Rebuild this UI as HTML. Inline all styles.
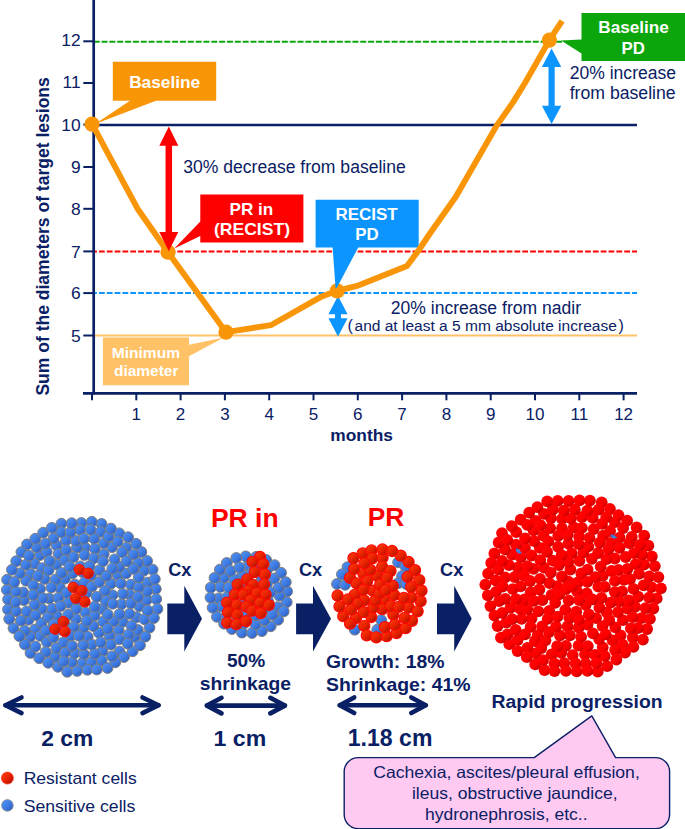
<!DOCTYPE html>
<html><head><meta charset="utf-8"><title>RECIST</title>
<style>
html,body{margin:0;padding:0;background:#fff;}
body{width:685px;height:829px;overflow:hidden;}
svg{display:block;}
text{font-family:"Liberation Sans",sans-serif;}
.b{font-weight:bold;}
.n{fill:#0a2064;}
.w{fill:#fff;}
</style></head><body>
<svg width="685" height="829" viewBox="0 0 685 829">
<defs>
<linearGradient id="gb" x1="0.15" y1="0.15" x2="0.85" y2="0.85">
<stop offset="0" stop-color="#4d8ef3"/><stop offset="0.5" stop-color="#3f7de3"/><stop offset="1" stop-color="#2f62c8"/>
</linearGradient>
<linearGradient id="gr" x1="0.15" y1="0.15" x2="0.85" y2="0.85">
<stop offset="0" stop-color="#f7380f"/><stop offset="0.5" stop-color="#ea2200"/><stop offset="1" stop-color="#b61400"/>
</linearGradient>
<linearGradient id="gr2" x1="0.15" y1="0.15" x2="0.85" y2="0.85">
<stop offset="0" stop-color="#ff0505"/><stop offset="0.6" stop-color="#fd0000"/><stop offset="1" stop-color="#c80000"/>
</linearGradient>
</defs>
<rect width="685" height="829" fill="#fff"/>

<g id="chart">
<line x1="94" y1="41.699999999999996" x2="562" y2="41.699999999999996" stroke="#0ca60c" stroke-width="2.1" stroke-dasharray="6 1.84" stroke-dashoffset="0.3"/>
<line x1="94" y1="124.89999999999999" x2="637" y2="124.89999999999999" stroke="#0a2064" stroke-width="2.5"/>
<line x1="94" y1="251.4" x2="637" y2="251.4" stroke="#ff0000" stroke-width="2" stroke-dasharray="5.8 2.04" stroke-dashoffset="2.9"/>
<line x1="94" y1="293.1" x2="637" y2="293.1" stroke="#0c95ff" stroke-width="2" stroke-dasharray="5.8 2.04" stroke-dashoffset="2.9"/>
<line x1="94" y1="335.5" x2="637" y2="335.5" stroke="#ffc266" stroke-width="2.2"/>
<line x1="93.7" y1="0" x2="93.7" y2="394.6" stroke="#0a2064" stroke-width="2.7"/>
<line x1="83" y1="393.4" x2="637" y2="393.4" stroke="#0a2064" stroke-width="2.6"/>
<line x1="83.3" y1="335.5" x2="93" y2="335.5" stroke="#0a2064" stroke-width="2"/>
<text x="80.6" y="341.7" font-size="17.4" text-anchor="end" class="n">5</text>
<line x1="83.3" y1="293.1" x2="93" y2="293.1" stroke="#0a2064" stroke-width="2"/>
<text x="80.6" y="299.3" font-size="17.4" text-anchor="end" class="n">6</text>
<line x1="83.3" y1="251.4" x2="93" y2="251.4" stroke="#0a2064" stroke-width="2"/>
<text x="80.6" y="257.6" font-size="17.4" text-anchor="end" class="n">7</text>
<line x1="83.3" y1="208.8" x2="93" y2="208.8" stroke="#0a2064" stroke-width="2"/>
<text x="80.6" y="215.0" font-size="17.4" text-anchor="end" class="n">8</text>
<line x1="83.3" y1="167.0" x2="93" y2="167.0" stroke="#0a2064" stroke-width="2"/>
<text x="80.6" y="173.2" font-size="17.4" text-anchor="end" class="n">9</text>
<line x1="83.3" y1="124.6" x2="93" y2="124.6" stroke="#0a2064" stroke-width="2"/>
<text x="80.6" y="130.8" font-size="17.4" text-anchor="end" class="n">10</text>
<line x1="83.3" y1="83.0" x2="93" y2="83.0" stroke="#0a2064" stroke-width="2"/>
<text x="80.6" y="88.3" font-size="17.4" text-anchor="end" class="n">11</text>
<line x1="83.3" y1="41.3" x2="93" y2="41.3" stroke="#0a2064" stroke-width="2"/>
<text x="80.6" y="45.9" font-size="17.4" text-anchor="end" class="n">12</text>
<line x1="92.0" y1="393" x2="92.0" y2="400.3" stroke="#0a2064" stroke-width="2"/>
<line x1="136.3" y1="393" x2="136.3" y2="400.3" stroke="#0a2064" stroke-width="2"/>
<text x="136.3" y="420.3" font-size="17" text-anchor="middle" class="n">1</text>
<line x1="180.6" y1="393" x2="180.6" y2="400.3" stroke="#0a2064" stroke-width="2"/>
<text x="180.6" y="420.3" font-size="17" text-anchor="middle" class="n">2</text>
<line x1="224.9" y1="393" x2="224.9" y2="400.3" stroke="#0a2064" stroke-width="2"/>
<text x="224.9" y="420.3" font-size="17" text-anchor="middle" class="n">3</text>
<line x1="269.2" y1="393" x2="269.2" y2="400.3" stroke="#0a2064" stroke-width="2"/>
<text x="269.2" y="420.3" font-size="17" text-anchor="middle" class="n">4</text>
<line x1="313.5" y1="393" x2="313.5" y2="400.3" stroke="#0a2064" stroke-width="2"/>
<text x="313.5" y="420.3" font-size="17" text-anchor="middle" class="n">5</text>
<line x1="357.8" y1="393" x2="357.8" y2="400.3" stroke="#0a2064" stroke-width="2"/>
<text x="357.8" y="420.3" font-size="17" text-anchor="middle" class="n">6</text>
<line x1="402.1" y1="393" x2="402.1" y2="400.3" stroke="#0a2064" stroke-width="2"/>
<text x="402.1" y="420.3" font-size="17" text-anchor="middle" class="n">7</text>
<line x1="446.4" y1="393" x2="446.4" y2="400.3" stroke="#0a2064" stroke-width="2"/>
<text x="446.4" y="420.3" font-size="17" text-anchor="middle" class="n">8</text>
<line x1="490.7" y1="393" x2="490.7" y2="400.3" stroke="#0a2064" stroke-width="2"/>
<text x="490.7" y="420.3" font-size="17" text-anchor="middle" class="n">9</text>
<line x1="535.0" y1="393" x2="535.0" y2="400.3" stroke="#0a2064" stroke-width="2"/>
<text x="535.0" y="420.3" font-size="17" text-anchor="middle" class="n">10</text>
<line x1="579.3" y1="393" x2="579.3" y2="400.3" stroke="#0a2064" stroke-width="2"/>
<text x="579.3" y="420.3" font-size="17" text-anchor="middle" class="n">11</text>
<line x1="623.6" y1="393" x2="623.6" y2="400.3" stroke="#0a2064" stroke-width="2"/>
<text x="623.6" y="420.3" font-size="17" text-anchor="middle" class="n">12</text>
<text x="361.6" y="441" font-size="17" text-anchor="middle" class="n b" textLength="62.6" lengthAdjust="spacingAndGlyphs">months</text>
<text transform="translate(49,395.6) rotate(-90)" font-size="17.5" class="n b" textLength="318.4" lengthAdjust="spacingAndGlyphs">Sum of the diameters of target lesions</text>
<path d="M102.9 337.5 H189 V344.8 L224 337.6 L189 356.3 V385.2 H102.9 Z" fill="#ffc266"/>
<text x="145.9" y="357.8" font-size="15.5" text-anchor="middle" class="w b" textLength="68.3" lengthAdjust="spacingAndGlyphs">Minimum</text>
<text x="146.2" y="376" font-size="15.5" text-anchor="middle" class="w b" textLength="64.5" lengthAdjust="spacingAndGlyphs">diameter</text>
<path d="M338.0 296.0 L347.6 314.3 H341.0 V318.3 H347.6 L338.0 336.6 L328.4 318.3 H335.0 V314.3 H328.4 Z" fill="#0c95ff"/>
<path d="M551.6 48.6 L561.3000000000001 66.9 H554.7 V105.7 H561.3000000000001 L551.6 124.0 L541.9 105.7 H548.5 V66.9 H541.9 Z" fill="#0c95ff"/>
<circle cx="92" cy="124.2" r="7.6" fill="#f99608"/>
<circle cx="168.0" cy="252.2" r="7.6" fill="#f99608"/>
<circle cx="226" cy="332.2" r="7.6" fill="#f99608"/>
<circle cx="337.2" cy="290.9" r="7.6" fill="#f99608"/>
<circle cx="549.4" cy="40.1" r="7.6" fill="#f99608"/>
<path d="M315.6 199.8 H418.7 V247.4 H358.2 L335.7 290 L332.6 247.4 H315.6 Z" fill="#0c95ff"/>
<text x="366.6" y="219.6" font-size="17" text-anchor="middle" class="w b" textLength="62.2" lengthAdjust="spacingAndGlyphs">RECIST</text>
<text x="367" y="240" font-size="17" text-anchor="middle" class="w b" textLength="23.4" lengthAdjust="spacingAndGlyphs">PD</text>
<path d="M92.2 124.2 L137.9 209.3 L168.0 252.2 L226 332.2 L270.8 325.2 L320.5 297.1 L337.3 290.8 L358.8 285.3 L407 266 L418.9 250 L429.6 234 L455.8 196.8 L496.5 125.9 L513 102.4 L525.1 82.8 L549.4 40.1 L562.1 20.8" fill="none" stroke="#f99608" stroke-width="5.9" stroke-linejoin="round"/>
<path d="M168.8 126.6 L178.3 145.79999999999998 H172.05 V232.0 H178.3 L168.8 251.2 L159.3 232.0 H165.55 V145.79999999999998 H159.3 Z" fill="#ff0000"/>
<path d="M112.8 61.7 H216.2 V100.8 H156 L95 124 L130 100.8 H112.8 Z" fill="#f99608"/>
<text x="164.7" y="87.8" font-size="17" text-anchor="middle" class="w b" textLength="71.1" lengthAdjust="spacingAndGlyphs">Baseline</text>
<path d="M200.3 194.5 H303.4 V242.6 H200.3 V236 L174.3 248.6 L200.3 221.5 Z" fill="#ff0000"/>
<text x="251.4" y="214.8" font-size="17" text-anchor="middle" class="w b" textLength="43.8" lengthAdjust="spacingAndGlyphs">PR in</text>
<text x="252" y="235.2" font-size="17" text-anchor="middle" class="w b" textLength="76" lengthAdjust="spacingAndGlyphs">(RECIST)</text>
<path d="M581.5 12.9 H686 V60.9 H581.5 V53.5 L561.1 40.4 L581.5 39.6 Z" fill="#0ca60c"/>
<text x="633.6" y="33.2" font-size="17" text-anchor="middle" class="w b" textLength="70.6" lengthAdjust="spacingAndGlyphs">Baseline</text>
<text x="633.3" y="53.9" font-size="17" text-anchor="middle" class="w b" textLength="23.4" lengthAdjust="spacingAndGlyphs">PD</text>
<text x="183.2" y="173.3" font-size="17.5" class="n" textLength="222.6" lengthAdjust="spacingAndGlyphs">30% decrease from baseline</text>
<text x="569.7" y="78.7" font-size="17.5" class="n" textLength="106.4" lengthAdjust="spacingAndGlyphs">20% increase</text>
<text x="569.7" y="99.1" font-size="17.5" class="n" textLength="106" lengthAdjust="spacingAndGlyphs">from baseline</text>
<text x="390.8" y="313.8" font-size="17.5" class="n" textLength="190.2" lengthAdjust="spacingAndGlyphs">20% increase from nadir</text>
<text x="354.5" y="330.9" font-size="15.5" class="n" textLength="262.3" lengthAdjust="spacingAndGlyphs">and at least a 5 mm absolute increase</text>
<text x="347.6" y="330.6" font-size="16" class="n">(</text>
<text x="618.6" y="330.6" font-size="16" class="n">)</text>
</g>
<g id="cells">
<circle cx="67.2" cy="671.8" r="5.4" fill="url(#gb)" stroke="#7c7c7c" stroke-width="1.0"/>
<circle cx="141.4" cy="552.0" r="5.4" fill="url(#gb)" stroke="#7c7c7c" stroke-width="1.0"/>
<circle cx="28.5" cy="619.8" r="5.4" fill="url(#gb)" stroke="#7c7c7c" stroke-width="1.0"/>
<circle cx="72.5" cy="573.4" r="5.4" fill="url(#gb)" stroke="#7c7c7c" stroke-width="1.0"/>
<circle cx="101.6" cy="523.9" r="5.4" fill="url(#gb)" stroke="#7c7c7c" stroke-width="1.0"/>
<circle cx="117.7" cy="575.0" r="5.4" fill="url(#gb)" stroke="#7c7c7c" stroke-width="1.0"/>
<circle cx="81.3" cy="523.0" r="5.4" fill="url(#gb)" stroke="#7c7c7c" stroke-width="1.0"/>
<circle cx="152.6" cy="569.6" r="5.4" fill="url(#gb)" stroke="#7c7c7c" stroke-width="1.0"/>
<circle cx="66.0" cy="540.4" r="5.4" fill="url(#gb)" stroke="#7c7c7c" stroke-width="1.0"/>
<circle cx="134.7" cy="636.9" r="5.4" fill="url(#gb)" stroke="#7c7c7c" stroke-width="1.0"/>
<circle cx="35.0" cy="629.5" r="5.4" fill="url(#gb)" stroke="#7c7c7c" stroke-width="1.0"/>
<circle cx="56.5" cy="545.3" r="5.4" fill="url(#gb)" stroke="#7c7c7c" stroke-width="1.0"/>
<circle cx="39.9" cy="555.1" r="5.4" fill="url(#gb)" stroke="#7c7c7c" stroke-width="1.0"/>
<circle cx="102.5" cy="651.1" r="5.4" fill="url(#gb)" stroke="#7c7c7c" stroke-width="1.0"/>
<circle cx="16.2" cy="561.2" r="5.4" fill="url(#gb)" stroke="#7c7c7c" stroke-width="1.0"/>
<circle cx="80.1" cy="530.0" r="5.4" fill="url(#gb)" stroke="#7c7c7c" stroke-width="1.0"/>
<circle cx="68.4" cy="602.8" r="5.4" fill="url(#gb)" stroke="#7c7c7c" stroke-width="1.0"/>
<circle cx="34.5" cy="563.7" r="5.4" fill="url(#gb)" stroke="#7c7c7c" stroke-width="1.0"/>
<circle cx="82.5" cy="662.8" r="5.4" fill="url(#gb)" stroke="#7c7c7c" stroke-width="1.0"/>
<circle cx="85.1" cy="547.6" r="5.4" fill="url(#gb)" stroke="#7c7c7c" stroke-width="1.0"/>
<circle cx="36.5" cy="547.2" r="5.4" fill="url(#gb)" stroke="#7c7c7c" stroke-width="1.0"/>
<circle cx="79.6" cy="590.0" r="5.4" fill="url(#gb)" stroke="#7c7c7c" stroke-width="1.0"/>
<circle cx="13.5" cy="628.2" r="5.4" fill="url(#gb)" stroke="#7c7c7c" stroke-width="1.0"/>
<circle cx="30.5" cy="652.9" r="5.4" fill="url(#gb)" stroke="#7c7c7c" stroke-width="1.0"/>
<circle cx="84.4" cy="555.0" r="5.4" fill="url(#gb)" stroke="#7c7c7c" stroke-width="1.0"/>
<circle cx="100.5" cy="531.9" r="5.4" fill="url(#gb)" stroke="#7c7c7c" stroke-width="1.0"/>
<circle cx="126.2" cy="547.8" r="5.4" fill="url(#gb)" stroke="#7c7c7c" stroke-width="1.0"/>
<circle cx="40.4" cy="635.9" r="5.4" fill="url(#gb)" stroke="#7c7c7c" stroke-width="1.0"/>
<circle cx="101.7" cy="660.5" r="5.4" fill="url(#gb)" stroke="#7c7c7c" stroke-width="1.0"/>
<circle cx="42.1" cy="568.1" r="5.4" fill="url(#gb)" stroke="#7c7c7c" stroke-width="1.0"/>
<circle cx="119.4" cy="651.6" r="5.4" fill="url(#gb)" stroke="#7c7c7c" stroke-width="1.0"/>
<circle cx="54.7" cy="656.6" r="5.4" fill="url(#gb)" stroke="#7c7c7c" stroke-width="1.0"/>
<circle cx="86.5" cy="593.0" r="5.4" fill="url(#gb)" stroke="#7c7c7c" stroke-width="1.0"/>
<circle cx="27.0" cy="544.4" r="5.4" fill="url(#gb)" stroke="#7c7c7c" stroke-width="1.0"/>
<circle cx="71.9" cy="662.0" r="5.4" fill="url(#gb)" stroke="#7c7c7c" stroke-width="1.0"/>
<circle cx="46.9" cy="642.1" r="5.4" fill="url(#gb)" stroke="#7c7c7c" stroke-width="1.0"/>
<circle cx="139.2" cy="606.2" r="5.4" fill="url(#gb)" stroke="#7c7c7c" stroke-width="1.0"/>
<circle cx="118.7" cy="630.1" r="5.4" fill="url(#gb)" stroke="#7c7c7c" stroke-width="1.0"/>
<circle cx="124.0" cy="657.0" r="5.4" fill="url(#gb)" stroke="#7c7c7c" stroke-width="1.0"/>
<circle cx="59.9" cy="587.6" r="5.4" fill="url(#gb)" stroke="#7c7c7c" stroke-width="1.0"/>
<circle cx="8.0" cy="609.4" r="5.4" fill="url(#gb)" stroke="#7c7c7c" stroke-width="1.0"/>
<circle cx="74.8" cy="653.1" r="5.4" fill="url(#gb)" stroke="#7c7c7c" stroke-width="1.0"/>
<circle cx="75.9" cy="618.9" r="5.4" fill="url(#gb)" stroke="#7c7c7c" stroke-width="1.0"/>
<circle cx="58.6" cy="553.8" r="5.4" fill="url(#gb)" stroke="#7c7c7c" stroke-width="1.0"/>
<circle cx="122.2" cy="552.2" r="5.4" fill="url(#gb)" stroke="#7c7c7c" stroke-width="1.0"/>
<circle cx="30.6" cy="574.1" r="5.4" fill="url(#gb)" stroke="#7c7c7c" stroke-width="1.0"/>
<circle cx="110.9" cy="583.7" r="5.4" fill="url(#gb)" stroke="#7c7c7c" stroke-width="1.0"/>
<circle cx="23.9" cy="600.1" r="5.4" fill="url(#gb)" stroke="#7c7c7c" stroke-width="1.0"/>
<circle cx="126.0" cy="573.5" r="5.4" fill="url(#gb)" stroke="#7c7c7c" stroke-width="1.0"/>
<circle cx="46.7" cy="551.8" r="5.4" fill="url(#gb)" stroke="#7c7c7c" stroke-width="1.0"/>
<circle cx="122.8" cy="621.6" r="5.4" fill="url(#gb)" stroke="#7c7c7c" stroke-width="1.0"/>
<circle cx="44.5" cy="578.9" r="5.4" fill="url(#gb)" stroke="#7c7c7c" stroke-width="1.0"/>
<circle cx="91.1" cy="575.3" r="5.4" fill="url(#gb)" stroke="#7c7c7c" stroke-width="1.0"/>
<circle cx="112.4" cy="595.2" r="5.4" fill="url(#gb)" stroke="#7c7c7c" stroke-width="1.0"/>
<circle cx="109.5" cy="635.6" r="5.4" fill="url(#gb)" stroke="#7c7c7c" stroke-width="1.0"/>
<circle cx="82.7" cy="572.1" r="5.4" fill="url(#gb)" stroke="#7c7c7c" stroke-width="1.0"/>
<circle cx="102.6" cy="608.9" r="5.4" fill="url(#gb)" stroke="#7c7c7c" stroke-width="1.0"/>
<circle cx="103.2" cy="621.6" r="5.4" fill="url(#gb)" stroke="#7c7c7c" stroke-width="1.0"/>
<circle cx="146.8" cy="599.9" r="5.4" fill="url(#gb)" stroke="#7c7c7c" stroke-width="1.0"/>
<circle cx="119.2" cy="566.8" r="5.4" fill="url(#gb)" stroke="#7c7c7c" stroke-width="1.0"/>
<circle cx="136.5" cy="617.2" r="5.4" fill="url(#gb)" stroke="#7c7c7c" stroke-width="1.0"/>
<circle cx="66.1" cy="550.1" r="5.4" fill="url(#gb)" stroke="#7c7c7c" stroke-width="1.0"/>
<circle cx="53.5" cy="538.2" r="5.4" fill="url(#gb)" stroke="#7c7c7c" stroke-width="1.0"/>
<circle cx="143.7" cy="570.7" r="5.4" fill="url(#gb)" stroke="#7c7c7c" stroke-width="1.0"/>
<circle cx="85.3" cy="612.3" r="5.4" fill="url(#gb)" stroke="#7c7c7c" stroke-width="1.0"/>
<circle cx="45.8" cy="652.0" r="5.4" fill="url(#gb)" stroke="#7c7c7c" stroke-width="1.0"/>
<circle cx="66.2" cy="593.0" r="5.4" fill="url(#gb)" stroke="#7c7c7c" stroke-width="1.0"/>
<circle cx="41.5" cy="622.9" r="5.4" fill="url(#gb)" stroke="#7c7c7c" stroke-width="1.0"/>
<circle cx="83.3" cy="628.1" r="5.4" fill="url(#gb)" stroke="#7c7c7c" stroke-width="1.0"/>
<circle cx="30.2" cy="636.8" r="5.4" fill="url(#gb)" stroke="#7c7c7c" stroke-width="1.0"/>
<circle cx="7.1" cy="579.7" r="5.4" fill="url(#gb)" stroke="#7c7c7c" stroke-width="1.0"/>
<circle cx="136.1" cy="543.8" r="5.4" fill="url(#gb)" stroke="#7c7c7c" stroke-width="1.0"/>
<circle cx="121.7" cy="604.1" r="5.4" fill="url(#gb)" stroke="#7c7c7c" stroke-width="1.0"/>
<circle cx="147.6" cy="582.6" r="5.4" fill="url(#gb)" stroke="#7c7c7c" stroke-width="1.0"/>
<circle cx="56.3" cy="564.3" r="5.4" fill="url(#gb)" stroke="#7c7c7c" stroke-width="1.0"/>
<circle cx="94.5" cy="615.4" r="5.4" fill="url(#gb)" stroke="#7c7c7c" stroke-width="1.0"/>
<circle cx="99.5" cy="570.1" r="5.4" fill="url(#gb)" stroke="#7c7c7c" stroke-width="1.0"/>
<circle cx="53.3" cy="637.3" r="5.4" fill="url(#gb)" stroke="#7c7c7c" stroke-width="1.0"/>
<circle cx="119.2" cy="533.3" r="5.4" fill="url(#gb)" stroke="#7c7c7c" stroke-width="1.0"/>
<circle cx="56.5" cy="615.6" r="5.4" fill="url(#gb)" stroke="#7c7c7c" stroke-width="1.0"/>
<circle cx="64.8" cy="560.1" r="5.4" fill="url(#gb)" stroke="#7c7c7c" stroke-width="1.0"/>
<circle cx="98.9" cy="632.7" r="5.4" fill="url(#gb)" stroke="#7c7c7c" stroke-width="1.0"/>
<circle cx="41.8" cy="608.8" r="5.4" fill="url(#gb)" stroke="#7c7c7c" stroke-width="1.0"/>
<circle cx="155.8" cy="589.0" r="5.4" fill="url(#gb)" stroke="#7c7c7c" stroke-width="1.0"/>
<circle cx="48.7" cy="570.0" r="5.4" fill="url(#gb)" stroke="#7c7c7c" stroke-width="1.0"/>
<circle cx="91.3" cy="662.2" r="5.4" fill="url(#gb)" stroke="#7c7c7c" stroke-width="1.0"/>
<circle cx="77.0" cy="547.4" r="5.4" fill="url(#gb)" stroke="#7c7c7c" stroke-width="1.0"/>
<circle cx="73.7" cy="627.1" r="5.4" fill="url(#gb)" stroke="#7c7c7c" stroke-width="1.0"/>
<circle cx="26.5" cy="611.5" r="5.4" fill="url(#gb)" stroke="#7c7c7c" stroke-width="1.0"/>
<circle cx="21.4" cy="552.1" r="5.4" fill="url(#gb)" stroke="#7c7c7c" stroke-width="1.0"/>
<circle cx="84.1" cy="601.5" r="5.4" fill="url(#gb)" stroke="#7c7c7c" stroke-width="1.0"/>
<circle cx="37.6" cy="576.0" r="5.4" fill="url(#gb)" stroke="#7c7c7c" stroke-width="1.0"/>
<circle cx="149.5" cy="627.6" r="5.4" fill="url(#gb)" stroke="#7c7c7c" stroke-width="1.0"/>
<circle cx="25.7" cy="564.8" r="5.4" fill="url(#gb)" stroke="#7c7c7c" stroke-width="1.0"/>
<circle cx="57.9" cy="666.8" r="5.4" fill="url(#gb)" stroke="#7c7c7c" stroke-width="1.0"/>
<circle cx="6.9" cy="589.9" r="5.4" fill="url(#gb)" stroke="#7c7c7c" stroke-width="1.0"/>
<circle cx="137.8" cy="630.0" r="5.4" fill="url(#gb)" stroke="#7c7c7c" stroke-width="1.0"/>
<circle cx="16.1" cy="611.2" r="5.4" fill="url(#gb)" stroke="#7c7c7c" stroke-width="1.0"/>
<circle cx="26.1" cy="580.7" r="5.4" fill="url(#gb)" stroke="#7c7c7c" stroke-width="1.0"/>
<circle cx="8.1" cy="599.4" r="5.4" fill="url(#gb)" stroke="#7c7c7c" stroke-width="1.0"/>
<circle cx="24.7" cy="630.8" r="5.4" fill="url(#gb)" stroke="#7c7c7c" stroke-width="1.0"/>
<circle cx="156.2" cy="599.1" r="5.4" fill="url(#gb)" stroke="#7c7c7c" stroke-width="1.0"/>
<circle cx="64.3" cy="622.2" r="5.4" fill="url(#gb)" stroke="#7c7c7c" stroke-width="1.0"/>
<circle cx="110.8" cy="644.5" r="5.4" fill="url(#gb)" stroke="#7c7c7c" stroke-width="1.0"/>
<circle cx="39.2" cy="658.2" r="5.4" fill="url(#gb)" stroke="#7c7c7c" stroke-width="1.0"/>
<circle cx="131.5" cy="625.8" r="5.4" fill="url(#gb)" stroke="#7c7c7c" stroke-width="1.0"/>
<circle cx="87.7" cy="636.8" r="5.4" fill="url(#gb)" stroke="#7c7c7c" stroke-width="1.0"/>
<circle cx="84.4" cy="582.5" r="5.4" fill="url(#gb)" stroke="#7c7c7c" stroke-width="1.0"/>
<circle cx="49.2" cy="598.5" r="5.4" fill="url(#gb)" stroke="#7c7c7c" stroke-width="1.0"/>
<circle cx="130.8" cy="584.7" r="5.4" fill="url(#gb)" stroke="#7c7c7c" stroke-width="1.0"/>
<circle cx="87.4" cy="669.8" r="5.4" fill="url(#gb)" stroke="#7c7c7c" stroke-width="1.0"/>
<circle cx="94.7" cy="653.8" r="5.4" fill="url(#gb)" stroke="#7c7c7c" stroke-width="1.0"/>
<circle cx="107.5" cy="668.0" r="5.4" fill="url(#gb)" stroke="#7c7c7c" stroke-width="1.0"/>
<circle cx="76.2" cy="608.8" r="5.4" fill="url(#gb)" stroke="#7c7c7c" stroke-width="1.0"/>
<circle cx="96.8" cy="669.5" r="5.4" fill="url(#gb)" stroke="#7c7c7c" stroke-width="1.0"/>
<circle cx="23.2" cy="592.4" r="5.4" fill="url(#gb)" stroke="#7c7c7c" stroke-width="1.0"/>
<circle cx="61.4" cy="629.8" r="5.4" fill="url(#gb)" stroke="#7c7c7c" stroke-width="1.0"/>
<circle cx="129.7" cy="594.6" r="5.4" fill="url(#gb)" stroke="#7c7c7c" stroke-width="1.0"/>
<circle cx="20.8" cy="620.6" r="5.4" fill="url(#gb)" stroke="#7c7c7c" stroke-width="1.0"/>
<circle cx="77.1" cy="670.9" r="5.4" fill="url(#gb)" stroke="#7c7c7c" stroke-width="1.0"/>
<circle cx="103.7" cy="554.2" r="5.4" fill="url(#gb)" stroke="#7c7c7c" stroke-width="1.0"/>
<circle cx="61.4" cy="523.7" r="5.4" fill="url(#gb)" stroke="#7c7c7c" stroke-width="1.0"/>
<circle cx="34.5" cy="604.6" r="5.4" fill="url(#gb)" stroke="#7c7c7c" stroke-width="1.0"/>
<circle cx="132.6" cy="651.3" r="5.4" fill="url(#gb)" stroke="#7c7c7c" stroke-width="1.0"/>
<circle cx="40.0" cy="589.0" r="5.4" fill="url(#gb)" stroke="#7c7c7c" stroke-width="1.0"/>
<circle cx="45.3" cy="543.6" r="5.4" fill="url(#gb)" stroke="#7c7c7c" stroke-width="1.0"/>
<circle cx="35.4" cy="646.5" r="5.4" fill="url(#gb)" stroke="#7c7c7c" stroke-width="1.0"/>
<circle cx="104.9" cy="591.0" r="5.4" fill="url(#gb)" stroke="#7c7c7c" stroke-width="1.0"/>
<circle cx="92.0" cy="586.5" r="5.4" fill="url(#gb)" stroke="#7c7c7c" stroke-width="1.0"/>
<circle cx="115.3" cy="662.3" r="5.4" fill="url(#gb)" stroke="#7c7c7c" stroke-width="1.0"/>
<circle cx="9.2" cy="619.0" r="5.4" fill="url(#gb)" stroke="#7c7c7c" stroke-width="1.0"/>
<circle cx="56.5" cy="648.0" r="5.4" fill="url(#gb)" stroke="#7c7c7c" stroke-width="1.0"/>
<circle cx="70.6" cy="635.6" r="5.4" fill="url(#gb)" stroke="#7c7c7c" stroke-width="1.0"/>
<circle cx="91.6" cy="644.5" r="5.4" fill="url(#gb)" stroke="#7c7c7c" stroke-width="1.0"/>
<circle cx="93.2" cy="626.0" r="5.4" fill="url(#gb)" stroke="#7c7c7c" stroke-width="1.0"/>
<circle cx="119.3" cy="639.2" r="5.4" fill="url(#gb)" stroke="#7c7c7c" stroke-width="1.0"/>
<circle cx="147.1" cy="561.0" r="5.4" fill="url(#gb)" stroke="#7c7c7c" stroke-width="1.0"/>
<circle cx="147.2" cy="591.1" r="5.4" fill="url(#gb)" stroke="#7c7c7c" stroke-width="1.0"/>
<circle cx="63.3" cy="642.3" r="5.4" fill="url(#gb)" stroke="#7c7c7c" stroke-width="1.0"/>
<circle cx="157.4" cy="608.9" r="5.4" fill="url(#gb)" stroke="#7c7c7c" stroke-width="1.0"/>
<circle cx="128.5" cy="634.7" r="5.4" fill="url(#gb)" stroke="#7c7c7c" stroke-width="1.0"/>
<circle cx="68.1" cy="614.7" r="5.4" fill="url(#gb)" stroke="#7c7c7c" stroke-width="1.0"/>
<circle cx="99.3" cy="582.0" r="5.4" fill="url(#gb)" stroke="#7c7c7c" stroke-width="1.0"/>
<circle cx="145.3" cy="636.6" r="5.4" fill="url(#gb)" stroke="#7c7c7c" stroke-width="1.0"/>
<circle cx="105.8" cy="600.8" r="5.4" fill="url(#gb)" stroke="#7c7c7c" stroke-width="1.0"/>
<circle cx="130.8" cy="603.3" r="5.4" fill="url(#gb)" stroke="#7c7c7c" stroke-width="1.0"/>
<circle cx="114.6" cy="559.3" r="5.4" fill="url(#gb)" stroke="#7c7c7c" stroke-width="1.0"/>
<circle cx="19.8" cy="573.3" r="5.4" fill="url(#gb)" stroke="#7c7c7c" stroke-width="1.0"/>
<circle cx="64.9" cy="652.7" r="5.4" fill="url(#gb)" stroke="#7c7c7c" stroke-width="1.0"/>
<circle cx="78.9" cy="635.8" r="5.4" fill="url(#gb)" stroke="#7c7c7c" stroke-width="1.0"/>
<circle cx="75.8" cy="540.8" r="5.4" fill="url(#gb)" stroke="#7c7c7c" stroke-width="1.0"/>
<circle cx="72.0" cy="645.8" r="5.4" fill="url(#gb)" stroke="#7c7c7c" stroke-width="1.0"/>
<circle cx="74.8" cy="584.5" r="5.4" fill="url(#gb)" stroke="#7c7c7c" stroke-width="1.0"/>
<circle cx="112.7" cy="603.8" r="5.4" fill="url(#gb)" stroke="#7c7c7c" stroke-width="1.0"/>
<circle cx="113.4" cy="621.2" r="5.4" fill="url(#gb)" stroke="#7c7c7c" stroke-width="1.0"/>
<circle cx="76.8" cy="599.4" r="5.4" fill="url(#gb)" stroke="#7c7c7c" stroke-width="1.0"/>
<circle cx="64.9" cy="578.6" r="5.4" fill="url(#gb)" stroke="#7c7c7c" stroke-width="1.0"/>
<circle cx="91.8" cy="521.8" r="5.4" fill="url(#gb)" stroke="#7c7c7c" stroke-width="1.0"/>
<circle cx="112.0" cy="656.3" r="5.4" fill="url(#gb)" stroke="#7c7c7c" stroke-width="1.0"/>
<circle cx="15.9" cy="591.6" r="5.4" fill="url(#gb)" stroke="#7c7c7c" stroke-width="1.0"/>
<circle cx="49.7" cy="560.9" r="5.4" fill="url(#gb)" stroke="#7c7c7c" stroke-width="1.0"/>
<circle cx="154.8" cy="579.1" r="5.4" fill="url(#gb)" stroke="#7c7c7c" stroke-width="1.0"/>
<circle cx="120.8" cy="583.4" r="5.4" fill="url(#gb)" stroke="#7c7c7c" stroke-width="1.0"/>
<circle cx="112.0" cy="547.1" r="5.4" fill="url(#gb)" stroke="#7c7c7c" stroke-width="1.0"/>
<circle cx="103.7" cy="543.1" r="5.4" fill="url(#gb)" stroke="#7c7c7c" stroke-width="1.0"/>
<circle cx="80.3" cy="566.3" r="5.4" fill="url(#gb)" stroke="#7c7c7c" stroke-width="1.0"/>
<circle cx="45.7" cy="630.6" r="5.4" fill="url(#gb)" stroke="#7c7c7c" stroke-width="1.0"/>
<circle cx="144.3" cy="619.2" r="5.4" fill="url(#gb)" stroke="#7c7c7c" stroke-width="1.0"/>
<circle cx="94.6" cy="606.6" r="5.4" fill="url(#gb)" stroke="#7c7c7c" stroke-width="1.0"/>
<circle cx="29.0" cy="555.7" r="5.4" fill="url(#gb)" stroke="#7c7c7c" stroke-width="1.0"/>
<circle cx="128.1" cy="537.2" r="5.4" fill="url(#gb)" stroke="#7c7c7c" stroke-width="1.0"/>
<circle cx="137.9" cy="563.0" r="5.4" fill="url(#gb)" stroke="#7c7c7c" stroke-width="1.0"/>
<circle cx="138.7" cy="587.3" r="5.4" fill="url(#gb)" stroke="#7c7c7c" stroke-width="1.0"/>
<circle cx="35.3" cy="538.7" r="5.4" fill="url(#gb)" stroke="#7c7c7c" stroke-width="1.0"/>
<circle cx="138.7" cy="577.3" r="5.4" fill="url(#gb)" stroke="#7c7c7c" stroke-width="1.0"/>
<circle cx="24.9" cy="644.4" r="5.4" fill="url(#gb)" stroke="#7c7c7c" stroke-width="1.0"/>
<circle cx="153.9" cy="618.0" r="5.4" fill="url(#gb)" stroke="#7c7c7c" stroke-width="1.0"/>
<circle cx="94.8" cy="548.7" r="5.4" fill="url(#gb)" stroke="#7c7c7c" stroke-width="1.0"/>
<circle cx="93.7" cy="558.3" r="5.4" fill="url(#gb)" stroke="#7c7c7c" stroke-width="1.0"/>
<circle cx="127.7" cy="643.6" r="5.4" fill="url(#gb)" stroke="#7c7c7c" stroke-width="1.0"/>
<circle cx="42.7" cy="598.2" r="5.4" fill="url(#gb)" stroke="#7c7c7c" stroke-width="1.0"/>
<circle cx="107.7" cy="614.5" r="5.4" fill="url(#gb)" stroke="#7c7c7c" stroke-width="1.0"/>
<circle cx="117.6" cy="541.5" r="5.4" fill="url(#gb)" stroke="#7c7c7c" stroke-width="1.0"/>
<circle cx="63.5" cy="661.4" r="5.4" fill="url(#gb)" stroke="#7c7c7c" stroke-width="1.0"/>
<circle cx="140.0" cy="645.3" r="5.4" fill="url(#gb)" stroke="#7c7c7c" stroke-width="1.0"/>
<circle cx="129.4" cy="613.8" r="5.4" fill="url(#gb)" stroke="#7c7c7c" stroke-width="1.0"/>
<circle cx="106.2" cy="575.9" r="5.4" fill="url(#gb)" stroke="#7c7c7c" stroke-width="1.0"/>
<circle cx="15.6" cy="602.0" r="5.4" fill="url(#gb)" stroke="#7c7c7c" stroke-width="1.0"/>
<circle cx="122.8" cy="593.8" r="5.4" fill="url(#gb)" stroke="#7c7c7c" stroke-width="1.0"/>
<circle cx="112.3" cy="568.6" r="5.4" fill="url(#gb)" stroke="#7c7c7c" stroke-width="1.0"/>
<circle cx="73.5" cy="557.0" r="5.4" fill="url(#gb)" stroke="#7c7c7c" stroke-width="1.0"/>
<circle cx="11.9" cy="569.8" r="5.4" fill="url(#gb)" stroke="#7c7c7c" stroke-width="1.0"/>
<circle cx="147.6" cy="610.4" r="5.4" fill="url(#gb)" stroke="#7c7c7c" stroke-width="1.0"/>
<circle cx="48.1" cy="617.0" r="5.4" fill="url(#gb)" stroke="#7c7c7c" stroke-width="1.0"/>
<circle cx="133.2" cy="568.8" r="5.4" fill="url(#gb)" stroke="#7c7c7c" stroke-width="1.0"/>
<circle cx="58.2" cy="597.9" r="5.4" fill="url(#gb)" stroke="#7c7c7c" stroke-width="1.0"/>
<circle cx="83.8" cy="653.9" r="5.4" fill="url(#gb)" stroke="#7c7c7c" stroke-width="1.0"/>
<circle cx="100.7" cy="642.3" r="5.4" fill="url(#gb)" stroke="#7c7c7c" stroke-width="1.0"/>
<circle cx="94.0" cy="538.6" r="5.4" fill="url(#gb)" stroke="#7c7c7c" stroke-width="1.0"/>
<circle cx="119.5" cy="614.1" r="5.4" fill="url(#gb)" stroke="#7c7c7c" stroke-width="1.0"/>
<circle cx="55.6" cy="579.4" r="5.4" fill="url(#gb)" stroke="#7c7c7c" stroke-width="1.0"/>
<circle cx="61.0" cy="532.1" r="5.4" fill="url(#gb)" stroke="#7c7c7c" stroke-width="1.0"/>
<circle cx="14.3" cy="582.0" r="5.4" fill="url(#gb)" stroke="#7c7c7c" stroke-width="1.0"/>
<circle cx="89.5" cy="566.1" r="5.4" fill="url(#gb)" stroke="#7c7c7c" stroke-width="1.0"/>
<circle cx="52.2" cy="608.7" r="5.4" fill="url(#gb)" stroke="#7c7c7c" stroke-width="1.0"/>
<circle cx="70.4" cy="532.1" r="5.4" fill="url(#gb)" stroke="#7c7c7c" stroke-width="1.0"/>
<circle cx="96.7" cy="596.8" r="5.4" fill="url(#gb)" stroke="#7c7c7c" stroke-width="1.0"/>
<circle cx="71.7" cy="523.2" r="5.4" fill="url(#gb)" stroke="#7c7c7c" stroke-width="1.0"/>
<circle cx="60.6" cy="606.0" r="5.4" fill="url(#gb)" stroke="#7c7c7c" stroke-width="1.0"/>
<circle cx="108.5" cy="536.5" r="5.4" fill="url(#gb)" stroke="#7c7c7c" stroke-width="1.0"/>
<circle cx="126.6" cy="561.2" r="5.4" fill="url(#gb)" stroke="#7c7c7c" stroke-width="1.0"/>
<circle cx="51.4" cy="587.5" r="5.4" fill="url(#gb)" stroke="#7c7c7c" stroke-width="1.0"/>
<circle cx="61.4" cy="572.9" r="5.4" fill="url(#gb)" stroke="#7c7c7c" stroke-width="1.0"/>
<circle cx="43.2" cy="532.7" r="5.4" fill="url(#gb)" stroke="#7c7c7c" stroke-width="1.0"/>
<circle cx="35.4" cy="615.2" r="5.4" fill="url(#gb)" stroke="#7c7c7c" stroke-width="1.0"/>
<circle cx="107.6" cy="628.6" r="5.4" fill="url(#gb)" stroke="#7c7c7c" stroke-width="1.0"/>
<circle cx="110.9" cy="528.6" r="5.4" fill="url(#gb)" stroke="#7c7c7c" stroke-width="1.0"/>
<circle cx="33.2" cy="585.3" r="5.4" fill="url(#gb)" stroke="#7c7c7c" stroke-width="1.0"/>
<circle cx="83.1" cy="645.3" r="5.4" fill="url(#gb)" stroke="#7c7c7c" stroke-width="1.0"/>
<circle cx="69.5" cy="566.5" r="5.4" fill="url(#gb)" stroke="#7c7c7c" stroke-width="1.0"/>
<circle cx="51.8" cy="527.8" r="5.4" fill="url(#gb)" stroke="#7c7c7c" stroke-width="1.0"/>
<circle cx="86.8" cy="620.9" r="5.4" fill="url(#gb)" stroke="#7c7c7c" stroke-width="1.0"/>
<circle cx="83.8" cy="538.7" r="5.4" fill="url(#gb)" stroke="#7c7c7c" stroke-width="1.0"/>
<circle cx="48.2" cy="662.8" r="5.4" fill="url(#gb)" stroke="#7c7c7c" stroke-width="1.0"/>
<circle cx="133.4" cy="554.3" r="5.4" fill="url(#gb)" stroke="#7c7c7c" stroke-width="1.0"/>
<circle cx="137.9" cy="596.8" r="5.4" fill="url(#gb)" stroke="#7c7c7c" stroke-width="1.0"/>
<circle cx="90.5" cy="529.6" r="5.4" fill="url(#gb)" stroke="#7c7c7c" stroke-width="1.0"/>
<circle cx="53.5" cy="624.2" r="5.4" fill="url(#gb)" stroke="#7c7c7c" stroke-width="1.0"/>
<circle cx="33.1" cy="594.9" r="5.4" fill="url(#gb)" stroke="#7c7c7c" stroke-width="1.0"/>
<circle cx="81.8" cy="596.6" r="5.4" fill="url(#gb)" stroke="#7c7c7c" stroke-width="1.0"/>
<circle cx="19.4" cy="636.1" r="5.4" fill="url(#gb)" stroke="#7c7c7c" stroke-width="1.0"/>
<circle cx="103.0" cy="561.2" r="5.4" fill="url(#gb)" stroke="#7c7c7c" stroke-width="1.0"/>
<circle cx="79.4" cy="569.6" r="5.2" fill="url(#gr)" stroke="#ff0800" stroke-width="1.0"/>
<circle cx="88.1" cy="573.3" r="5.2" fill="url(#gr)" stroke="#ff0800" stroke-width="1.0"/>
<circle cx="73.2" cy="587.4" r="5.2" fill="url(#gr)" stroke="#ff0800" stroke-width="1.0"/>
<circle cx="81.9" cy="590.6" r="5.2" fill="url(#gr)" stroke="#ff0800" stroke-width="1.0"/>
<circle cx="75.7" cy="598.1" r="5.2" fill="url(#gr)" stroke="#ff0800" stroke-width="1.0"/>
<circle cx="84.9" cy="601.8" r="5.2" fill="url(#gr)" stroke="#ff0800" stroke-width="1.0"/>
<circle cx="63.3" cy="621.7" r="5.2" fill="url(#gr)" stroke="#ff0800" stroke-width="1.0"/>
<circle cx="55.1" cy="629.1" r="5.2" fill="url(#gr)" stroke="#ff0800" stroke-width="1.0"/>
<circle cx="65.0" cy="631.6" r="5.2" fill="url(#gr)" stroke="#ff0800" stroke-width="1.0"/>
<circle cx="258.1" cy="584.5" r="5.4" fill="url(#gb)" stroke="#7c7c7c" stroke-width="1.0"/>
<circle cx="270.7" cy="626.3" r="5.4" fill="url(#gb)" stroke="#7c7c7c" stroke-width="1.0"/>
<circle cx="236.1" cy="622.5" r="5.4" fill="url(#gb)" stroke="#7c7c7c" stroke-width="1.0"/>
<circle cx="245.6" cy="597.8" r="5.4" fill="url(#gb)" stroke="#7c7c7c" stroke-width="1.0"/>
<circle cx="223.7" cy="577.7" r="5.4" fill="url(#gb)" stroke="#7c7c7c" stroke-width="1.0"/>
<circle cx="241.9" cy="632.6" r="5.4" fill="url(#gb)" stroke="#7c7c7c" stroke-width="1.0"/>
<circle cx="253.2" cy="596.1" r="5.4" fill="url(#gb)" stroke="#7c7c7c" stroke-width="1.0"/>
<circle cx="252.0" cy="633.0" r="5.4" fill="url(#gb)" stroke="#7c7c7c" stroke-width="1.0"/>
<circle cx="247.7" cy="589.8" r="5.4" fill="url(#gb)" stroke="#7c7c7c" stroke-width="1.0"/>
<circle cx="261.9" cy="631.1" r="5.4" fill="url(#gb)" stroke="#7c7c7c" stroke-width="1.0"/>
<circle cx="267.2" cy="569.4" r="5.4" fill="url(#gb)" stroke="#7c7c7c" stroke-width="1.0"/>
<circle cx="257.7" cy="602.3" r="5.4" fill="url(#gb)" stroke="#7c7c7c" stroke-width="1.0"/>
<circle cx="274.2" cy="578.5" r="5.4" fill="url(#gb)" stroke="#7c7c7c" stroke-width="1.0"/>
<circle cx="242.3" cy="575.1" r="5.4" fill="url(#gb)" stroke="#7c7c7c" stroke-width="1.0"/>
<circle cx="218.6" cy="598.4" r="5.4" fill="url(#gb)" stroke="#7c7c7c" stroke-width="1.0"/>
<circle cx="255.4" cy="624.3" r="5.4" fill="url(#gb)" stroke="#7c7c7c" stroke-width="1.0"/>
<circle cx="219.9" cy="569.6" r="5.4" fill="url(#gb)" stroke="#7c7c7c" stroke-width="1.0"/>
<circle cx="248.3" cy="565.6" r="5.4" fill="url(#gb)" stroke="#7c7c7c" stroke-width="1.0"/>
<circle cx="216.9" cy="616.8" r="5.4" fill="url(#gb)" stroke="#7c7c7c" stroke-width="1.0"/>
<circle cx="268.3" cy="601.7" r="5.4" fill="url(#gb)" stroke="#7c7c7c" stroke-width="1.0"/>
<circle cx="239.5" cy="584.9" r="5.4" fill="url(#gb)" stroke="#7c7c7c" stroke-width="1.0"/>
<circle cx="286.7" cy="602.2" r="5.4" fill="url(#gb)" stroke="#7c7c7c" stroke-width="1.0"/>
<circle cx="221.5" cy="606.6" r="5.4" fill="url(#gb)" stroke="#7c7c7c" stroke-width="1.0"/>
<circle cx="244.3" cy="623.4" r="5.4" fill="url(#gb)" stroke="#7c7c7c" stroke-width="1.0"/>
<circle cx="266.9" cy="584.3" r="5.4" fill="url(#gb)" stroke="#7c7c7c" stroke-width="1.0"/>
<circle cx="214.5" cy="577.9" r="5.4" fill="url(#gb)" stroke="#7c7c7c" stroke-width="1.0"/>
<circle cx="227.3" cy="596.8" r="5.4" fill="url(#gb)" stroke="#7c7c7c" stroke-width="1.0"/>
<circle cx="287.1" cy="591.4" r="5.4" fill="url(#gb)" stroke="#7c7c7c" stroke-width="1.0"/>
<circle cx="264.4" cy="620.1" r="5.4" fill="url(#gb)" stroke="#7c7c7c" stroke-width="1.0"/>
<circle cx="279.4" cy="595.6" r="5.4" fill="url(#gb)" stroke="#7c7c7c" stroke-width="1.0"/>
<circle cx="278.8" cy="587.6" r="5.4" fill="url(#gb)" stroke="#7c7c7c" stroke-width="1.0"/>
<circle cx="234.0" cy="579.4" r="5.4" fill="url(#gb)" stroke="#7c7c7c" stroke-width="1.0"/>
<circle cx="245.7" cy="556.4" r="5.4" fill="url(#gb)" stroke="#7c7c7c" stroke-width="1.0"/>
<circle cx="226.4" cy="616.2" r="5.4" fill="url(#gb)" stroke="#7c7c7c" stroke-width="1.0"/>
<circle cx="231.9" cy="629.0" r="5.4" fill="url(#gb)" stroke="#7c7c7c" stroke-width="1.0"/>
<circle cx="210.8" cy="587.6" r="5.4" fill="url(#gb)" stroke="#7c7c7c" stroke-width="1.0"/>
<circle cx="231.7" cy="606.9" r="5.4" fill="url(#gb)" stroke="#7c7c7c" stroke-width="1.0"/>
<circle cx="262.5" cy="594.4" r="5.4" fill="url(#gb)" stroke="#7c7c7c" stroke-width="1.0"/>
<circle cx="238.2" cy="612.4" r="5.4" fill="url(#gb)" stroke="#7c7c7c" stroke-width="1.0"/>
<circle cx="220.5" cy="586.9" r="5.4" fill="url(#gb)" stroke="#7c7c7c" stroke-width="1.0"/>
<circle cx="256.1" cy="556.9" r="5.4" fill="url(#gb)" stroke="#7c7c7c" stroke-width="1.0"/>
<circle cx="270.5" cy="592.4" r="5.4" fill="url(#gb)" stroke="#7c7c7c" stroke-width="1.0"/>
<circle cx="228.7" cy="587.7" r="5.4" fill="url(#gb)" stroke="#7c7c7c" stroke-width="1.0"/>
<circle cx="212.6" cy="607.7" r="5.4" fill="url(#gb)" stroke="#7c7c7c" stroke-width="1.0"/>
<circle cx="226.8" cy="563.0" r="5.4" fill="url(#gb)" stroke="#7c7c7c" stroke-width="1.0"/>
<circle cx="239.7" cy="604.3" r="5.4" fill="url(#gb)" stroke="#7c7c7c" stroke-width="1.0"/>
<circle cx="266.1" cy="560.0" r="5.4" fill="url(#gb)" stroke="#7c7c7c" stroke-width="1.0"/>
<circle cx="264.4" cy="608.9" r="5.4" fill="url(#gb)" stroke="#7c7c7c" stroke-width="1.0"/>
<circle cx="278.1" cy="619.8" r="5.4" fill="url(#gb)" stroke="#7c7c7c" stroke-width="1.0"/>
<circle cx="248.5" cy="581.4" r="5.4" fill="url(#gb)" stroke="#7c7c7c" stroke-width="1.0"/>
<circle cx="230.4" cy="570.9" r="5.4" fill="url(#gb)" stroke="#7c7c7c" stroke-width="1.0"/>
<circle cx="261.1" cy="575.8" r="5.4" fill="url(#gb)" stroke="#7c7c7c" stroke-width="1.0"/>
<circle cx="210.5" cy="597.6" r="5.4" fill="url(#gb)" stroke="#7c7c7c" stroke-width="1.0"/>
<circle cx="245.7" cy="615.0" r="5.4" fill="url(#gb)" stroke="#7c7c7c" stroke-width="1.0"/>
<circle cx="250.1" cy="608.7" r="5.4" fill="url(#gb)" stroke="#7c7c7c" stroke-width="1.0"/>
<circle cx="277.6" cy="607.1" r="5.4" fill="url(#gb)" stroke="#7c7c7c" stroke-width="1.0"/>
<circle cx="255.8" cy="615.3" r="5.4" fill="url(#gb)" stroke="#7c7c7c" stroke-width="1.0"/>
<circle cx="236.3" cy="558.0" r="5.4" fill="url(#gb)" stroke="#7c7c7c" stroke-width="1.0"/>
<circle cx="283.7" cy="611.4" r="5.4" fill="url(#gb)" stroke="#7c7c7c" stroke-width="1.0"/>
<circle cx="274.5" cy="565.2" r="5.4" fill="url(#gb)" stroke="#7c7c7c" stroke-width="1.0"/>
<circle cx="285.8" cy="582.2" r="5.4" fill="url(#gb)" stroke="#7c7c7c" stroke-width="1.0"/>
<circle cx="251.6" cy="573.0" r="5.4" fill="url(#gb)" stroke="#7c7c7c" stroke-width="1.0"/>
<circle cx="257.7" cy="565.0" r="5.4" fill="url(#gb)" stroke="#7c7c7c" stroke-width="1.0"/>
<circle cx="272.5" cy="614.6" r="5.4" fill="url(#gb)" stroke="#7c7c7c" stroke-width="1.0"/>
<circle cx="236.1" cy="595.0" r="5.4" fill="url(#gb)" stroke="#7c7c7c" stroke-width="1.0"/>
<circle cx="239.4" cy="567.4" r="5.4" fill="url(#gb)" stroke="#7c7c7c" stroke-width="1.0"/>
<circle cx="281.1" cy="572.8" r="5.4" fill="url(#gb)" stroke="#7c7c7c" stroke-width="1.0"/>
<circle cx="224.1" cy="623.7" r="5.4" fill="url(#gb)" stroke="#7c7c7c" stroke-width="1.0"/>
<circle cx="260.0" cy="556.9" r="5.5" fill="url(#gr)" stroke="#ff0800" stroke-width="1.1"/>
<circle cx="252.5" cy="561.7" r="5.5" fill="url(#gr)" stroke="#ff0800" stroke-width="1.1"/>
<circle cx="263.3" cy="564.1" r="5.5" fill="url(#gr)" stroke="#ff0800" stroke-width="1.1"/>
<circle cx="254.7" cy="572.1" r="5.5" fill="url(#gr)" stroke="#ff0800" stroke-width="1.1"/>
<circle cx="264.9" cy="574.5" r="5.5" fill="url(#gr)" stroke="#ff0800" stroke-width="1.1"/>
<circle cx="247.2" cy="579.3" r="5.5" fill="url(#gr)" stroke="#ff0800" stroke-width="1.1"/>
<circle cx="237.6" cy="584.6" r="5.5" fill="url(#gr)" stroke="#ff0800" stroke-width="1.1"/>
<circle cx="252.8" cy="585.0" r="5.5" fill="url(#gr)" stroke="#ff0800" stroke-width="1.1"/>
<circle cx="264.1" cy="584.2" r="5.5" fill="url(#gr)" stroke="#ff0800" stroke-width="1.1"/>
<circle cx="248.0" cy="590.6" r="5.5" fill="url(#gr)" stroke="#ff0800" stroke-width="1.1"/>
<circle cx="234.8" cy="594.6" r="5.5" fill="url(#gr)" stroke="#ff0800" stroke-width="1.1"/>
<circle cx="243.2" cy="594.6" r="5.5" fill="url(#gr)" stroke="#ff0800" stroke-width="1.1"/>
<circle cx="256.8" cy="593.0" r="5.5" fill="url(#gr)" stroke="#ff0800" stroke-width="1.1"/>
<circle cx="265.7" cy="594.6" r="5.5" fill="url(#gr)" stroke="#ff0800" stroke-width="1.1"/>
<circle cx="227.1" cy="602.6" r="5.5" fill="url(#gr)" stroke="#ff0800" stroke-width="1.1"/>
<circle cx="236.8" cy="605.0" r="5.5" fill="url(#gr)" stroke="#ff0800" stroke-width="1.1"/>
<circle cx="250.4" cy="600.2" r="5.5" fill="url(#gr)" stroke="#ff0800" stroke-width="1.1"/>
<circle cx="260.0" cy="602.6" r="5.5" fill="url(#gr)" stroke="#ff0800" stroke-width="1.1"/>
<circle cx="268.9" cy="605.0" r="5.5" fill="url(#gr)" stroke="#ff0800" stroke-width="1.1"/>
<circle cx="246.4" cy="606.6" r="5.5" fill="url(#gr)" stroke="#ff0800" stroke-width="1.1"/>
<circle cx="227.9" cy="612.3" r="5.5" fill="url(#gr)" stroke="#ff0800" stroke-width="1.1"/>
<circle cx="237.1" cy="614.7" r="5.5" fill="url(#gr)" stroke="#ff0800" stroke-width="1.1"/>
<circle cx="252.0" cy="610.7" r="5.5" fill="url(#gr)" stroke="#ff0800" stroke-width="1.1"/>
<circle cx="260.8" cy="613.1" r="5.5" fill="url(#gr)" stroke="#ff0800" stroke-width="1.1"/>
<circle cx="227.1" cy="622.7" r="5.5" fill="url(#gr)" stroke="#ff0800" stroke-width="1.1"/>
<circle cx="236.4" cy="624.3" r="5.5" fill="url(#gr)" stroke="#ff0800" stroke-width="1.1"/>
<circle cx="246.1" cy="621.1" r="5.5" fill="url(#gr)" stroke="#ff0800" stroke-width="1.1"/>
<circle cx="347.5" cy="567.1" r="5.4" fill="url(#gb)" stroke="#7c7c7c" stroke-width="1.0"/>
<circle cx="341.9" cy="574.3" r="5.4" fill="url(#gb)" stroke="#7c7c7c" stroke-width="1.0"/>
<circle cx="337.0" cy="584.0" r="5.4" fill="url(#gb)" stroke="#7c7c7c" stroke-width="1.0"/>
<circle cx="345.1" cy="584.8" r="5.4" fill="url(#gb)" stroke="#7c7c7c" stroke-width="1.0"/>
<circle cx="398.1" cy="562.3" r="5.4" fill="url(#gb)" stroke="#7c7c7c" stroke-width="1.0"/>
<circle cx="405.3" cy="566.3" r="5.4" fill="url(#gb)" stroke="#7c7c7c" stroke-width="1.0"/>
<circle cx="402.1" cy="576.0" r="5.4" fill="url(#gb)" stroke="#7c7c7c" stroke-width="1.0"/>
<circle cx="398.1" cy="583.2" r="5.4" fill="url(#gb)" stroke="#7c7c7c" stroke-width="1.0"/>
<circle cx="406.1" cy="584.0" r="5.4" fill="url(#gb)" stroke="#7c7c7c" stroke-width="1.0"/>
<circle cx="381.2" cy="620.1" r="5.4" fill="url(#gb)" stroke="#7c7c7c" stroke-width="1.0"/>
<circle cx="377.2" cy="629.7" r="5.4" fill="url(#gb)" stroke="#7c7c7c" stroke-width="1.0"/>
<circle cx="354.7" cy="629.7" r="5.4" fill="url(#gb)" stroke="#7c7c7c" stroke-width="1.0"/>
<circle cx="343.3" cy="616.2" r="5.6" fill="url(#gr)" stroke="#ff0800" stroke-width="1.1"/>
<circle cx="419.3" cy="580.2" r="5.6" fill="url(#gr)" stroke="#ff0800" stroke-width="1.1"/>
<circle cx="386.6" cy="636.2" r="5.6" fill="url(#gr)" stroke="#ff0800" stroke-width="1.1"/>
<circle cx="362.7" cy="553.3" r="5.6" fill="url(#gr)" stroke="#ff0800" stroke-width="1.1"/>
<circle cx="408.6" cy="562.0" r="5.6" fill="url(#gr)" stroke="#ff0800" stroke-width="1.1"/>
<circle cx="372.9" cy="590.7" r="5.6" fill="url(#gr)" stroke="#ff0800" stroke-width="1.1"/>
<circle cx="363.4" cy="573.6" r="5.6" fill="url(#gr)" stroke="#ff0800" stroke-width="1.1"/>
<circle cx="384.9" cy="627.2" r="5.6" fill="url(#gr)" stroke="#ff0800" stroke-width="1.1"/>
<circle cx="405.6" cy="628.2" r="5.6" fill="url(#gr)" stroke="#ff0800" stroke-width="1.1"/>
<circle cx="376.9" cy="575.7" r="5.6" fill="url(#gr)" stroke="#ff0800" stroke-width="1.1"/>
<circle cx="370.4" cy="569.8" r="5.6" fill="url(#gr)" stroke="#ff0800" stroke-width="1.1"/>
<circle cx="400.7" cy="555.7" r="5.6" fill="url(#gr)" stroke="#ff0800" stroke-width="1.1"/>
<circle cx="415.0" cy="570.2" r="5.6" fill="url(#gr)" stroke="#ff0800" stroke-width="1.1"/>
<circle cx="420.6" cy="601.2" r="5.6" fill="url(#gr)" stroke="#ff0800" stroke-width="1.1"/>
<circle cx="396.6" cy="633.1" r="5.6" fill="url(#gr)" stroke="#ff0800" stroke-width="1.1"/>
<circle cx="364.0" cy="600.4" r="5.6" fill="url(#gr)" stroke="#ff0800" stroke-width="1.1"/>
<circle cx="371.3" cy="617.0" r="5.6" fill="url(#gr)" stroke="#ff0800" stroke-width="1.1"/>
<circle cx="382.6" cy="557.6" r="5.6" fill="url(#gr)" stroke="#ff0800" stroke-width="1.1"/>
<circle cx="354.7" cy="594.9" r="5.6" fill="url(#gr)" stroke="#ff0800" stroke-width="1.1"/>
<circle cx="384.3" cy="600.3" r="5.6" fill="url(#gr)" stroke="#ff0800" stroke-width="1.1"/>
<circle cx="367.2" cy="581.1" r="5.6" fill="url(#gr)" stroke="#ff0800" stroke-width="1.1"/>
<circle cx="407.7" cy="577.0" r="5.6" fill="url(#gr)" stroke="#ff0800" stroke-width="1.1"/>
<circle cx="421.5" cy="590.7" r="5.6" fill="url(#gr)" stroke="#ff0800" stroke-width="1.1"/>
<circle cx="350.0" cy="577.8" r="5.6" fill="url(#gr)" stroke="#ff0800" stroke-width="1.1"/>
<circle cx="354.2" cy="568.9" r="5.6" fill="url(#gr)" stroke="#ff0800" stroke-width="1.1"/>
<circle cx="356.0" cy="618.0" r="5.6" fill="url(#gr)" stroke="#ff0800" stroke-width="1.1"/>
<circle cx="393.3" cy="614.6" r="5.6" fill="url(#gr)" stroke="#ff0800" stroke-width="1.1"/>
<circle cx="382.2" cy="566.9" r="5.6" fill="url(#gr)" stroke="#ff0800" stroke-width="1.1"/>
<circle cx="394.2" cy="595.0" r="5.6" fill="url(#gr)" stroke="#ff0800" stroke-width="1.1"/>
<circle cx="371.5" cy="550.5" r="5.6" fill="url(#gr)" stroke="#ff0800" stroke-width="1.1"/>
<circle cx="382.3" cy="609.2" r="5.6" fill="url(#gr)" stroke="#ff0800" stroke-width="1.1"/>
<circle cx="373.3" cy="607.5" r="5.6" fill="url(#gr)" stroke="#ff0800" stroke-width="1.1"/>
<circle cx="390.5" cy="571.1" r="5.6" fill="url(#gr)" stroke="#ff0800" stroke-width="1.1"/>
<circle cx="408.8" cy="607.5" r="5.6" fill="url(#gr)" stroke="#ff0800" stroke-width="1.1"/>
<circle cx="357.4" cy="603.9" r="5.6" fill="url(#gr)" stroke="#ff0800" stroke-width="1.1"/>
<circle cx="411.4" cy="597.4" r="5.6" fill="url(#gr)" stroke="#ff0800" stroke-width="1.1"/>
<circle cx="351.0" cy="609.6" r="5.6" fill="url(#gr)" stroke="#ff0800" stroke-width="1.1"/>
<circle cx="350.1" cy="623.7" r="5.6" fill="url(#gr)" stroke="#ff0800" stroke-width="1.1"/>
<circle cx="375.5" cy="600.3" r="5.6" fill="url(#gr)" stroke="#ff0800" stroke-width="1.1"/>
<circle cx="339.5" cy="606.5" r="5.6" fill="url(#gr)" stroke="#ff0800" stroke-width="1.1"/>
<circle cx="411.1" cy="587.0" r="5.6" fill="url(#gr)" stroke="#ff0800" stroke-width="1.1"/>
<circle cx="372.3" cy="558.3" r="5.6" fill="url(#gr)" stroke="#ff0800" stroke-width="1.1"/>
<circle cx="337.6" cy="595.7" r="5.6" fill="url(#gr)" stroke="#ff0800" stroke-width="1.1"/>
<circle cx="392.8" cy="586.0" r="5.6" fill="url(#gr)" stroke="#ff0800" stroke-width="1.1"/>
<circle cx="347.9" cy="599.5" r="5.6" fill="url(#gr)" stroke="#ff0800" stroke-width="1.1"/>
<circle cx="379.4" cy="593.2" r="5.6" fill="url(#gr)" stroke="#ff0800" stroke-width="1.1"/>
<circle cx="364.5" cy="563.3" r="5.6" fill="url(#gr)" stroke="#ff0800" stroke-width="1.1"/>
<circle cx="364.3" cy="625.9" r="5.6" fill="url(#gr)" stroke="#ff0800" stroke-width="1.1"/>
<circle cx="390.9" cy="605.8" r="5.6" fill="url(#gr)" stroke="#ff0800" stroke-width="1.1"/>
<circle cx="366.8" cy="635.4" r="5.6" fill="url(#gr)" stroke="#ff0800" stroke-width="1.1"/>
<circle cx="376.3" cy="637.3" r="5.6" fill="url(#gr)" stroke="#ff0800" stroke-width="1.1"/>
<circle cx="398.7" cy="606.8" r="5.6" fill="url(#gr)" stroke="#ff0800" stroke-width="1.1"/>
<circle cx="380.2" cy="584.6" r="5.6" fill="url(#gr)" stroke="#ff0800" stroke-width="1.1"/>
<circle cx="356.7" cy="583.4" r="5.6" fill="url(#gr)" stroke="#ff0800" stroke-width="1.1"/>
<circle cx="417.6" cy="611.3" r="5.6" fill="url(#gr)" stroke="#ff0800" stroke-width="1.1"/>
<circle cx="353.5" cy="558.2" r="5.6" fill="url(#gr)" stroke="#ff0800" stroke-width="1.1"/>
<circle cx="363.6" cy="612.2" r="5.6" fill="url(#gr)" stroke="#ff0800" stroke-width="1.1"/>
<circle cx="403.8" cy="597.8" r="5.6" fill="url(#gr)" stroke="#ff0800" stroke-width="1.1"/>
<circle cx="363.4" cy="589.7" r="5.6" fill="url(#gr)" stroke="#ff0800" stroke-width="1.1"/>
<circle cx="385.5" cy="590.2" r="5.6" fill="url(#gr)" stroke="#ff0800" stroke-width="1.1"/>
<circle cx="412.0" cy="620.8" r="5.6" fill="url(#gr)" stroke="#ff0800" stroke-width="1.1"/>
<circle cx="394.9" cy="624.7" r="5.6" fill="url(#gr)" stroke="#ff0800" stroke-width="1.1"/>
<circle cx="404.7" cy="617.8" r="5.6" fill="url(#gr)" stroke="#ff0800" stroke-width="1.1"/>
<circle cx="382.5" cy="549.5" r="5.6" fill="url(#gr)" stroke="#ff0800" stroke-width="1.1"/>
<circle cx="386.8" cy="577.7" r="5.6" fill="url(#gr)" stroke="#ff0800" stroke-width="1.1"/>
<circle cx="392.1" cy="551.0" r="5.6" fill="url(#gr)" stroke="#ff0800" stroke-width="1.1"/>
<circle cx="597.7" cy="671.7" r="5.9" fill="url(#gr2)"/>
<circle cx="494.4" cy="553.5" r="5.9" fill="url(#gr2)"/>
<circle cx="622.1" cy="591.4" r="5.9" fill="url(#gr2)"/>
<circle cx="651.4" cy="587.1" r="5.9" fill="url(#gr2)"/>
<circle cx="581.9" cy="517.2" r="5.9" fill="url(#gr2)"/>
<circle cx="550.9" cy="518.0" r="5.9" fill="url(#gr2)"/>
<circle cx="620.6" cy="635.3" r="5.9" fill="url(#gr2)"/>
<circle cx="601.7" cy="502.3" r="5.9" fill="url(#gr2)"/>
<circle cx="549.2" cy="610.8" r="5.9" fill="url(#gr2)"/>
<circle cx="524.9" cy="548.0" r="5.9" fill="url(#gr2)"/>
<circle cx="564.2" cy="663.1" r="5.9" fill="url(#gr2)"/>
<circle cx="644.2" cy="535.7" r="5.9" fill="url(#gr2)"/>
<circle cx="557.2" cy="586.1" r="5.9" fill="url(#gr2)"/>
<circle cx="531.5" cy="618.6" r="5.9" fill="url(#gr2)"/>
<circle cx="607.2" cy="666.2" r="5.9" fill="url(#gr2)"/>
<circle cx="611.6" cy="571.0" r="5.9" fill="url(#gr2)"/>
<circle cx="596.1" cy="618.1" r="5.9" fill="url(#gr2)"/>
<circle cx="558.1" cy="546.9" r="5.9" fill="url(#gr2)"/>
<circle cx="609.9" cy="509.0" r="5.9" fill="url(#gr2)"/>
<circle cx="568.6" cy="501.0" r="5.9" fill="url(#gr2)"/>
<circle cx="533.5" cy="568.9" r="5.9" fill="url(#gr2)"/>
<circle cx="656.7" cy="598.4" r="5.9" fill="url(#gr2)"/>
<circle cx="544.5" cy="670.1" r="5.9" fill="url(#gr2)"/>
<circle cx="568.4" cy="543.6" r="5.9" fill="url(#gr2)"/>
<circle cx="567.6" cy="626.4" r="5.9" fill="url(#gr2)"/>
<circle cx="544.0" cy="567.7" r="5.9" fill="url(#gr2)"/>
<circle cx="512.1" cy="554.5" r="5.9" fill="url(#gr2)"/>
<circle cx="534.9" cy="641.0" r="5.9" fill="url(#gr2)"/>
<circle cx="516.3" cy="532.2" r="5.9" fill="url(#gr2)"/>
<circle cx="618.5" cy="570.0" r="5.9" fill="url(#gr2)"/>
<circle cx="592.7" cy="517.9" r="5.9" fill="url(#gr2)"/>
<circle cx="635.1" cy="606.8" r="5.9" fill="url(#gr2)"/>
<circle cx="632.8" cy="637.5" r="5.9" fill="url(#gr2)"/>
<circle cx="649.1" cy="597.7" r="5.9" fill="url(#gr2)"/>
<circle cx="623.9" cy="579.9" r="5.9" fill="url(#gr2)"/>
<circle cx="586.8" cy="593.3" r="5.9" fill="url(#gr2)"/>
<circle cx="531.5" cy="555.5" r="5.9" fill="url(#gr2)"/>
<circle cx="562.0" cy="518.8" r="5.9" fill="url(#gr2)"/>
<circle cx="598.1" cy="553.0" r="5.9" fill="url(#gr2)"/>
<circle cx="509.3" cy="644.2" r="5.9" fill="url(#gr2)"/>
<circle cx="535.4" cy="520.8" r="5.9" fill="url(#gr2)"/>
<circle cx="619.6" cy="537.7" r="5.9" fill="url(#gr2)"/>
<circle cx="490.4" cy="606.1" r="5.9" fill="url(#gr2)"/>
<circle cx="630.0" cy="579.2" r="5.9" fill="url(#gr2)"/>
<circle cx="641.4" cy="618.2" r="5.9" fill="url(#gr2)"/>
<circle cx="568.7" cy="600.4" r="5.9" fill="url(#gr2)"/>
<circle cx="648.4" cy="545.7" r="5.9" fill="url(#gr2)"/>
<circle cx="504.9" cy="549.4" r="5.9" fill="url(#gr2)"/>
<circle cx="654.8" cy="566.1" r="5.9" fill="url(#gr2)"/>
<circle cx="614.7" cy="558.5" r="5.9" fill="url(#gr2)"/>
<circle cx="660.9" cy="588.3" r="5.9" fill="url(#gr2)"/>
<circle cx="602.7" cy="647.3" r="5.9" fill="url(#gr2)"/>
<circle cx="488.1" cy="573.6" r="5.9" fill="url(#gr2)"/>
<circle cx="587.6" cy="624.6" r="5.9" fill="url(#gr2)"/>
<circle cx="517.6" cy="651.1" r="5.9" fill="url(#gr2)"/>
<circle cx="627.4" cy="608.6" r="5.9" fill="url(#gr2)"/>
<circle cx="649.9" cy="618.9" r="5.9" fill="url(#gr2)"/>
<circle cx="521.6" cy="618.9" r="5.9" fill="url(#gr2)"/>
<circle cx="557.7" cy="500.9" r="5.9" fill="url(#gr2)"/>
<circle cx="507.5" cy="634.3" r="5.9" fill="url(#gr2)"/>
<circle cx="572.7" cy="655.1" r="5.9" fill="url(#gr2)"/>
<circle cx="643.6" cy="585.3" r="5.9" fill="url(#gr2)"/>
<circle cx="578.7" cy="627.7" r="5.9" fill="url(#gr2)"/>
<circle cx="591.8" cy="558.8" r="5.9" fill="url(#gr2)"/>
<circle cx="598.3" cy="586.7" r="5.9" fill="url(#gr2)"/>
<circle cx="491.2" cy="563.0" r="5.9" fill="url(#gr2)"/>
<circle cx="606.9" cy="612.5" r="5.9" fill="url(#gr2)"/>
<circle cx="603.2" cy="535.7" r="5.9" fill="url(#gr2)"/>
<circle cx="495.6" cy="580.4" r="5.9" fill="url(#gr2)"/>
<circle cx="585.0" cy="654.3" r="5.9" fill="url(#gr2)"/>
<circle cx="543.9" cy="513.8" r="5.9" fill="url(#gr2)"/>
<circle cx="562.0" cy="528.3" r="5.9" fill="url(#gr2)"/>
<circle cx="644.0" cy="564.6" r="5.9" fill="url(#gr2)"/>
<circle cx="551.6" cy="595.0" r="5.9" fill="url(#gr2)"/>
<circle cx="614.8" cy="522.2" r="5.9" fill="url(#gr2)"/>
<circle cx="578.6" cy="645.7" r="5.9" fill="url(#gr2)"/>
<circle cx="535.7" cy="653.3" r="5.9" fill="url(#gr2)"/>
<circle cx="500.9" cy="637.6" r="5.9" fill="url(#gr2)"/>
<circle cx="569.9" cy="635.4" r="5.9" fill="url(#gr2)"/>
<circle cx="497.6" cy="626.0" r="5.9" fill="url(#gr2)"/>
<circle cx="529.2" cy="512.6" r="5.9" fill="url(#gr2)"/>
<circle cx="502.0" cy="533.1" r="5.9" fill="url(#gr2)"/>
<circle cx="647.1" cy="629.0" r="5.9" fill="url(#gr2)"/>
<circle cx="510.4" cy="607.9" r="5.9" fill="url(#gr2)"/>
<circle cx="637.8" cy="628.0" r="5.9" fill="url(#gr2)"/>
<circle cx="505.1" cy="577.3" r="5.9" fill="url(#gr2)"/>
<circle cx="623.1" cy="528.1" r="5.9" fill="url(#gr2)"/>
<circle cx="518.0" cy="567.3" r="5.9" fill="url(#gr2)"/>
<circle cx="520.7" cy="519.7" r="5.9" fill="url(#gr2)"/>
<circle cx="517.5" cy="640.2" r="5.9" fill="url(#gr2)"/>
<circle cx="615.3" cy="627.3" r="5.9" fill="url(#gr2)"/>
<circle cx="537.7" cy="635.1" r="5.9" fill="url(#gr2)"/>
<circle cx="618.5" cy="515.1" r="5.9" fill="url(#gr2)"/>
<circle cx="573.8" cy="527.3" r="5.9" fill="url(#gr2)"/>
<circle cx="619.2" cy="601.4" r="5.9" fill="url(#gr2)"/>
<circle cx="520.2" cy="608.8" r="5.9" fill="url(#gr2)"/>
<circle cx="527.4" cy="647.8" r="5.9" fill="url(#gr2)"/>
<circle cx="505.3" cy="598.8" r="5.9" fill="url(#gr2)"/>
<circle cx="625.7" cy="557.0" r="5.9" fill="url(#gr2)"/>
<circle cx="515.7" cy="629.8" r="5.9" fill="url(#gr2)"/>
<circle cx="565.3" cy="609.9" r="5.9" fill="url(#gr2)"/>
<circle cx="555.2" cy="602.8" r="5.9" fill="url(#gr2)"/>
<circle cx="502.6" cy="586.5" r="5.9" fill="url(#gr2)"/>
<circle cx="533.5" cy="530.4" r="5.9" fill="url(#gr2)"/>
<circle cx="551.7" cy="654.3" r="5.9" fill="url(#gr2)"/>
<circle cx="498.2" cy="569.4" r="5.9" fill="url(#gr2)"/>
<circle cx="653.3" cy="608.5" r="5.9" fill="url(#gr2)"/>
<circle cx="593.7" cy="529.1" r="5.9" fill="url(#gr2)"/>
<circle cx="527.3" cy="566.2" r="5.9" fill="url(#gr2)"/>
<circle cx="498.7" cy="542.5" r="5.9" fill="url(#gr2)"/>
<circle cx="598.5" cy="509.6" r="5.9" fill="url(#gr2)"/>
<circle cx="622.9" cy="620.2" r="5.9" fill="url(#gr2)"/>
<circle cx="629.2" cy="543.2" r="5.9" fill="url(#gr2)"/>
<circle cx="568.0" cy="581.3" r="5.9" fill="url(#gr2)"/>
<circle cx="576.3" cy="611.7" r="5.9" fill="url(#gr2)"/>
<circle cx="485.3" cy="584.6" r="5.9" fill="url(#gr2)"/>
<circle cx="508.9" cy="565.2" r="5.9" fill="url(#gr2)"/>
<circle cx="606.2" cy="517.1" r="5.9" fill="url(#gr2)"/>
<circle cx="604.7" cy="656.2" r="5.9" fill="url(#gr2)"/>
<circle cx="530.7" cy="592.2" r="5.9" fill="url(#gr2)"/>
<circle cx="635.7" cy="564.1" r="5.9" fill="url(#gr2)"/>
<circle cx="612.7" cy="640.4" r="5.9" fill="url(#gr2)"/>
<circle cx="520.7" cy="557.2" r="5.9" fill="url(#gr2)"/>
<circle cx="579.4" cy="560.8" r="5.9" fill="url(#gr2)"/>
<circle cx="610.1" cy="531.0" r="5.9" fill="url(#gr2)"/>
<circle cx="602.7" cy="575.9" r="5.9" fill="url(#gr2)"/>
<circle cx="602.0" cy="523.9" r="5.9" fill="url(#gr2)"/>
<circle cx="549.4" cy="583.1" r="5.9" fill="url(#gr2)"/>
<circle cx="495.9" cy="591.8" r="5.9" fill="url(#gr2)"/>
<circle cx="587.4" cy="510.7" r="5.9" fill="url(#gr2)"/>
<circle cx="538.3" cy="611.3" r="5.9" fill="url(#gr2)"/>
<circle cx="622.7" cy="644.7" r="5.9" fill="url(#gr2)"/>
<circle cx="516.0" cy="544.7" r="5.9" fill="url(#gr2)"/>
<circle cx="649.2" cy="576.5" r="5.9" fill="url(#gr2)"/>
<circle cx="542.1" cy="626.5" r="5.9" fill="url(#gr2)"/>
<circle cx="527.2" cy="524.8" r="5.9" fill="url(#gr2)"/>
<circle cx="602.6" cy="626.1" r="5.9" fill="url(#gr2)"/>
<circle cx="570.8" cy="518.3" r="5.9" fill="url(#gr2)"/>
<circle cx="506.2" cy="622.5" r="5.9" fill="url(#gr2)"/>
<circle cx="541.3" cy="648.0" r="5.9" fill="url(#gr2)"/>
<circle cx="574.8" cy="509.6" r="5.9" fill="url(#gr2)"/>
<circle cx="540.3" cy="560.1" r="5.9" fill="url(#gr2)"/>
<circle cx="543.4" cy="535.5" r="5.9" fill="url(#gr2)"/>
<circle cx="507.3" cy="540.0" r="5.9" fill="url(#gr2)"/>
<circle cx="636.6" cy="527.4" r="5.9" fill="url(#gr2)"/>
<circle cx="585.7" cy="604.9" r="5.9" fill="url(#gr2)"/>
<circle cx="527.2" cy="609.0" r="5.9" fill="url(#gr2)"/>
<circle cx="625.0" cy="652.7" r="5.9" fill="url(#gr2)"/>
<circle cx="588.8" cy="614.4" r="5.9" fill="url(#gr2)"/>
<circle cx="561.9" cy="576.3" r="5.9" fill="url(#gr2)"/>
<circle cx="561.2" cy="652.9" r="5.9" fill="url(#gr2)"/>
<circle cx="545.5" cy="640.3" r="5.9" fill="url(#gr2)"/>
<circle cx="609.2" cy="620.0" r="5.9" fill="url(#gr2)"/>
<circle cx="579.1" cy="536.6" r="5.9" fill="url(#gr2)"/>
<circle cx="571.7" cy="553.3" r="5.9" fill="url(#gr2)"/>
<circle cx="565.9" cy="645.9" r="5.9" fill="url(#gr2)"/>
<circle cx="605.7" cy="634.3" r="5.9" fill="url(#gr2)"/>
<circle cx="581.9" cy="527.9" r="5.9" fill="url(#gr2)"/>
<circle cx="594.9" cy="654.9" r="5.9" fill="url(#gr2)"/>
<circle cx="552.8" cy="509.5" r="5.9" fill="url(#gr2)"/>
<circle cx="599.1" cy="639.1" r="5.9" fill="url(#gr2)"/>
<circle cx="585.7" cy="663.6" r="5.9" fill="url(#gr2)"/>
<circle cx="543.0" cy="660.2" r="5.9" fill="url(#gr2)"/>
<circle cx="587.4" cy="670.9" r="5.9" fill="url(#gr2)"/>
<circle cx="524.3" cy="599.5" r="5.9" fill="url(#gr2)"/>
<circle cx="548.3" cy="541.4" r="5.9" fill="url(#gr2)"/>
<circle cx="630.9" cy="628.4" r="5.9" fill="url(#gr2)"/>
<circle cx="599.4" cy="607.6" r="5.9" fill="url(#gr2)"/>
<circle cx="628.9" cy="600.3" r="5.9" fill="url(#gr2)"/>
<circle cx="552.8" cy="560.7" r="5.9" fill="url(#gr2)"/>
<circle cx="611.1" cy="542.8" r="5.9" fill="url(#gr2)"/>
<circle cx="520.6" cy="586.3" r="5.9" fill="url(#gr2)"/>
<circle cx="570.4" cy="569.5" r="5.9" fill="url(#gr2)"/>
<circle cx="587.6" cy="569.7" r="5.9" fill="url(#gr2)"/>
<circle cx="581.1" cy="636.9" r="5.9" fill="url(#gr2)"/>
<circle cx="627.4" cy="569.0" r="5.9" fill="url(#gr2)"/>
<circle cx="550.2" cy="528.1" r="5.9" fill="url(#gr2)"/>
<circle cx="577.8" cy="582.5" r="5.9" fill="url(#gr2)"/>
<circle cx="537.4" cy="507.2" r="5.9" fill="url(#gr2)"/>
<circle cx="558.2" cy="535.9" r="5.9" fill="url(#gr2)"/>
<circle cx="554.4" cy="663.6" r="5.9" fill="url(#gr2)"/>
<circle cx="568.3" cy="561.8" r="5.9" fill="url(#gr2)"/>
<circle cx="499.1" cy="601.2" r="5.9" fill="url(#gr2)"/>
<circle cx="565.9" cy="670.9" r="5.9" fill="url(#gr2)"/>
<circle cx="547.7" cy="618.8" r="5.9" fill="url(#gr2)"/>
<circle cx="557.2" cy="646.2" r="5.9" fill="url(#gr2)"/>
<circle cx="563.8" cy="510.7" r="5.9" fill="url(#gr2)"/>
<circle cx="542.3" cy="600.2" r="5.9" fill="url(#gr2)"/>
<circle cx="619.5" cy="547.8" r="5.9" fill="url(#gr2)"/>
<circle cx="576.9" cy="591.1" r="5.9" fill="url(#gr2)"/>
<circle cx="638.2" cy="596.7" r="5.9" fill="url(#gr2)"/>
<circle cx="502.2" cy="612.9" r="5.9" fill="url(#gr2)"/>
<circle cx="610.7" cy="602.7" r="5.9" fill="url(#gr2)"/>
<circle cx="533.6" cy="600.9" r="5.9" fill="url(#gr2)"/>
<circle cx="559.1" cy="594.4" r="5.9" fill="url(#gr2)"/>
<circle cx="569.3" cy="618.1" r="5.9" fill="url(#gr2)"/>
<circle cx="583.4" cy="552.3" r="5.9" fill="url(#gr2)"/>
<circle cx="578.9" cy="619.7" r="5.9" fill="url(#gr2)"/>
<circle cx="539.7" cy="547.8" r="5.9" fill="url(#gr2)"/>
<circle cx="599.8" cy="542.6" r="5.9" fill="url(#gr2)"/>
<circle cx="530.6" cy="626.9" r="5.9" fill="url(#gr2)"/>
<circle cx="614.9" cy="580.8" r="5.9" fill="url(#gr2)"/>
<circle cx="589.9" cy="500.7" r="5.9" fill="url(#gr2)"/>
<circle cx="601.6" cy="597.8" r="5.9" fill="url(#gr2)"/>
<circle cx="614.8" cy="592.1" r="5.9" fill="url(#gr2)"/>
<circle cx="617.9" cy="612.1" r="5.9" fill="url(#gr2)"/>
<circle cx="579.2" cy="600.1" r="5.9" fill="url(#gr2)"/>
<circle cx="565.8" cy="589.2" r="5.9" fill="url(#gr2)"/>
<circle cx="535.2" cy="664.3" r="5.9" fill="url(#gr2)"/>
<circle cx="581.3" cy="573.5" r="5.9" fill="url(#gr2)"/>
<circle cx="615.1" cy="650.0" r="5.9" fill="url(#gr2)"/>
<circle cx="651.8" cy="556.3" r="5.9" fill="url(#gr2)"/>
<circle cx="575.6" cy="663.5" r="5.9" fill="url(#gr2)"/>
<circle cx="600.7" cy="566.7" r="5.9" fill="url(#gr2)"/>
<circle cx="514.7" cy="577.0" r="5.9" fill="url(#gr2)"/>
<circle cx="595.2" cy="577.2" r="5.9" fill="url(#gr2)"/>
<circle cx="572.6" cy="586.2" r="5.9" fill="url(#gr2)"/>
<circle cx="588.3" cy="546.4" r="5.9" fill="url(#gr2)"/>
<circle cx="616.4" cy="659.5" r="5.9" fill="url(#gr2)"/>
<circle cx="641.9" cy="554.5" r="5.9" fill="url(#gr2)"/>
<circle cx="639.0" cy="573.9" r="5.9" fill="url(#gr2)"/>
<circle cx="559.9" cy="635.3" r="5.9" fill="url(#gr2)"/>
<circle cx="627.1" cy="520.7" r="5.9" fill="url(#gr2)"/>
<circle cx="524.1" cy="575.6" r="5.9" fill="url(#gr2)"/>
<circle cx="547.2" cy="501.4" r="5.9" fill="url(#gr2)"/>
<circle cx="530.1" cy="581.0" r="5.9" fill="url(#gr2)"/>
<circle cx="604.9" cy="586.8" r="5.9" fill="url(#gr2)"/>
<circle cx="592.9" cy="633.4" r="5.9" fill="url(#gr2)"/>
<circle cx="606.5" cy="559.0" r="5.9" fill="url(#gr2)"/>
<circle cx="526.8" cy="657.2" r="5.9" fill="url(#gr2)"/>
<circle cx="632.6" cy="617.1" r="5.9" fill="url(#gr2)"/>
<circle cx="579.5" cy="500.4" r="5.9" fill="url(#gr2)"/>
<circle cx="534.1" cy="541.1" r="5.9" fill="url(#gr2)"/>
<circle cx="554.5" cy="671.1" r="5.9" fill="url(#gr2)"/>
<circle cx="589.5" cy="537.8" r="5.9" fill="url(#gr2)"/>
<circle cx="587.8" cy="646.1" r="5.9" fill="url(#gr2)"/>
<circle cx="550.8" cy="572.6" r="5.9" fill="url(#gr2)"/>
<circle cx="561.6" cy="555.1" r="5.9" fill="url(#gr2)"/>
<circle cx="511.8" cy="526.2" r="5.9" fill="url(#gr2)"/>
<circle cx="512.7" cy="589.1" r="5.9" fill="url(#gr2)"/>
<circle cx="592.4" cy="599.3" r="5.9" fill="url(#gr2)"/>
<circle cx="567.6" cy="535.1" r="5.9" fill="url(#gr2)"/>
<circle cx="540.5" cy="525.2" r="5.9" fill="url(#gr2)"/>
<circle cx="596.3" cy="663.2" r="5.9" fill="url(#gr2)"/>
<circle cx="608.6" cy="549.1" r="5.9" fill="url(#gr2)"/>
<circle cx="633.8" cy="553.1" r="5.9" fill="url(#gr2)"/>
<circle cx="658.4" cy="577.1" r="5.9" fill="url(#gr2)"/>
<circle cx="633.4" cy="646.9" r="5.9" fill="url(#gr2)"/>
<circle cx="540.1" cy="578.8" r="5.9" fill="url(#gr2)"/>
<circle cx="525.1" cy="538.4" r="5.9" fill="url(#gr2)"/>
<circle cx="539.3" cy="589.5" r="5.9" fill="url(#gr2)"/>
<circle cx="645.5" cy="608.1" r="5.9" fill="url(#gr2)"/>
<circle cx="547.1" cy="551.9" r="5.9" fill="url(#gr2)"/>
<circle cx="502.0" cy="560.8" r="5.9" fill="url(#gr2)"/>
<circle cx="549.0" cy="632.1" r="5.9" fill="url(#gr2)"/>
<circle cx="642.9" cy="639.7" r="5.9" fill="url(#gr2)"/>
<circle cx="512.2" cy="619.2" r="5.9" fill="url(#gr2)"/>
<circle cx="558.9" cy="565.0" r="5.9" fill="url(#gr2)"/>
<circle cx="576.7" cy="671.3" r="5.9" fill="url(#gr2)"/>
<circle cx="515.9" cy="599.2" r="5.9" fill="url(#gr2)"/>
<circle cx="587.4" cy="581.8" r="5.9" fill="url(#gr2)"/>
<circle cx="556.1" cy="626.6" r="5.9" fill="url(#gr2)"/>
<circle cx="487.8" cy="595.4" r="5.9" fill="url(#gr2)"/>
<circle cx="525.0" cy="634.3" r="5.9" fill="url(#gr2)"/>
<circle cx="557.5" cy="616.7" r="5.9" fill="url(#gr2)"/>
<circle cx="494.4" cy="615.7" r="5.9" fill="url(#gr2)"/>
<circle cx="631.8" cy="536.9" r="5.9" fill="url(#gr2)"/>
<circle cx="639.8" cy="544.9" r="5.9" fill="url(#gr2)"/>
<circle cx="633.4" cy="588.9" r="5.9" fill="url(#gr2)"/>
<circle cx="578.7" cy="544.2" r="5.9" fill="url(#gr2)"/>
<path d="M515.8 548.2 L519.2 549.4 L522 553.4 L518.4 553.6 L516.2 551.2 Z" fill="#3e7de4"/>
<path d="M610.4 534.2 L613.6 535 L617.4 537.8 L613.6 538.8 L611.2 537.2 Z" fill="#3e7de4"/>
</g>
<path d="M167.3 603.6 H184.3 V585.8 L202 618.7 L184.3 651.6 V634.2 H167.3 Z" fill="#0a2064"/>
<path d="M296.1 603.6 H313 V585.8 L331 618.7 L313 651.6 V634.2 H296.1 Z" fill="#0a2064"/>
<path d="M437 603.6 H454.2 V585.8 L471.7 618.7 L454.2 651.6 V634.2 H437 Z" fill="#0a2064"/>
<text x="168.2" y="575.5" font-size="18" class="n b" textLength="23.2" lengthAdjust="spacingAndGlyphs">Cx</text>
<text x="299" y="575.5" font-size="18" class="n b" textLength="23.2" lengthAdjust="spacingAndGlyphs">Cx</text>
<text x="440.1" y="576.2" font-size="18" class="n b" textLength="23.2" lengthAdjust="spacingAndGlyphs">Cx</text>
<text x="210.9" y="526.7" font-size="26" class="b" fill="#ff0000" textLength="67.7" lengthAdjust="spacingAndGlyphs">PR in</text>
<text x="367.7" y="525.5" font-size="26" class="b" fill="#ff0000" textLength="36.6" lengthAdjust="spacingAndGlyphs">PR</text>
<text x="227" y="666.8" font-size="19" class="n b" textLength="38.2" lengthAdjust="spacingAndGlyphs">50%</text>
<text x="199.8" y="689.6" font-size="19" class="n b" textLength="91.2" lengthAdjust="spacingAndGlyphs">shrinkage</text>
<text x="326" y="667.6" font-size="19" class="n b" textLength="118.4" lengthAdjust="spacingAndGlyphs">Growth: 18%</text>
<text x="326" y="690.5" font-size="19" class="n b" textLength="144.5" lengthAdjust="spacingAndGlyphs">Shrinkage: 41%</text>
<text x="491.6" y="708.2" font-size="19.2" class="n b" textLength="171" lengthAdjust="spacingAndGlyphs">Rapid progression</text>
<g fill="none" stroke="#0a2064" stroke-width="4.6" stroke-linejoin="round" stroke-linecap="round"><line x1="5.5" y1="705.3" x2="158.5" y2="705.3"/><polyline points="21.5,697.5 5.5,705.3 21.5,713.0999999999999"/><polyline points="142.5,697.5 158.5,705.3 142.5,713.0999999999999"/></g>
<g fill="none" stroke="#0a2064" stroke-width="4.6" stroke-linejoin="round" stroke-linecap="round"><line x1="206.9" y1="705.6" x2="284.9" y2="705.6"/><polyline points="221.5,697.8000000000001 206.9,705.6 221.5,713.4"/><polyline points="270.29999999999995,697.8000000000001 284.9,705.6 270.29999999999995,713.4"/></g>
<g fill="none" stroke="#0a2064" stroke-width="4.6" stroke-linejoin="round" stroke-linecap="round"><line x1="339.8" y1="705.2" x2="425.7" y2="705.2"/><polyline points="354.2,697.4000000000001 339.8,705.2 354.2,713.0"/><polyline points="411.3,697.4000000000001 425.7,705.2 411.3,713.0"/></g>
<text x="41.2" y="745.8" font-size="22.5" class="n b" textLength="52" lengthAdjust="spacingAndGlyphs">2 cm</text>
<text x="213.6" y="746.1" font-size="22.5" class="n b" textLength="52.6" lengthAdjust="spacingAndGlyphs">1 cm</text>
<text x="347.8" y="746" font-size="23" class="n b" textLength="84.6" lengthAdjust="spacingAndGlyphs">1.18 cm</text>
<circle cx="7.4" cy="778.1" r="6" fill="url(#gr)" stroke="#ff1a00" stroke-width="0.6"/>
<circle cx="7.4" cy="805.4" r="5.8" fill="url(#gb)" stroke="#8a8a8a" stroke-width="0.8"/>
<text x="23.7" y="784" font-size="17" class="n" textLength="113" lengthAdjust="spacingAndGlyphs">Resistant cells</text>
<text x="23.7" y="811.9" font-size="17" class="n" textLength="111.6" lengthAdjust="spacingAndGlyphs">Sensitive cells</text>
<path d="M358.2 757.6 H534.2 L591.8 715.9 L615.6 757.6 H655.6 A14 14 0 0 1 669.6 771.6 V814.6 A14 14 0 0 1 655.6 828.6 H358.2 A14 14 0 0 1 344.2 814.6 V771.6 A14 14 0 0 1 358.2 757.6 Z" fill="#ffcaf2" stroke="#0a2064" stroke-width="1.4" stroke-linejoin="round"/>
<text x="373.2" y="778.3" font-size="16.5" class="n" textLength="266.6" lengthAdjust="spacingAndGlyphs">Cachexia, ascites/pleural effusion,</text>
<text x="411.9" y="799" font-size="16.5" class="n" textLength="205.7" lengthAdjust="spacingAndGlyphs">ileus, obstructive jaundice,</text>
<text x="425" y="819.7" font-size="16.5" class="n" textLength="162.5" lengthAdjust="spacingAndGlyphs">hydronephrosis, etc..</text>
</svg></body></html>
